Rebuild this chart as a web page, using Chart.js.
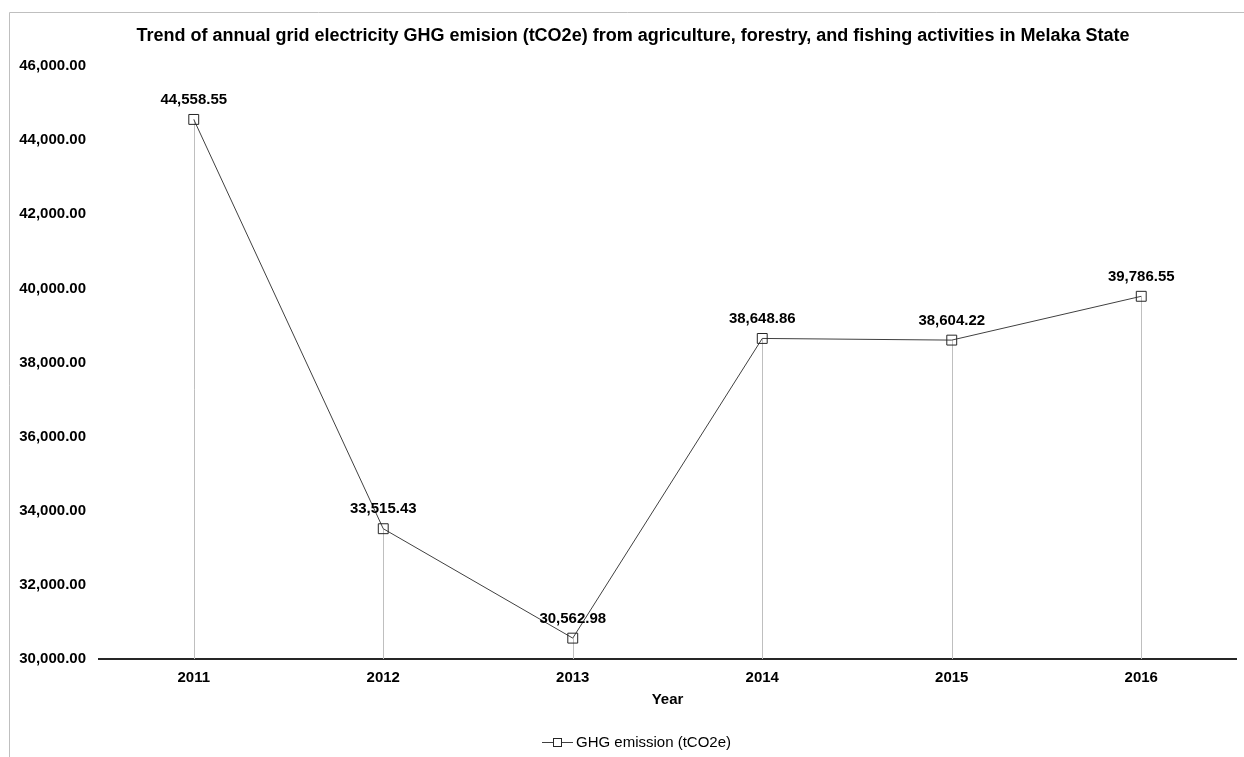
<!DOCTYPE html>
<html>
<head>
<meta charset="utf-8">
<script src="https://cdn.jsdelivr.net/npm/chart.js@4.4.1/dist/chart.umd.min.js"></script>
<style>
  html, body { margin: 0; padding: 0; background: #ffffff; }
  #wrap { position: relative; width: 1244px; height: 757px; }
</style>
</head>
<body>
<div id="wrap"><canvas id="chart" width="1244" height="757"></canvas></div>
<script>
// Annual grid electricity GHG emission, agriculture/forestry/fishing, Melaka
const years = ['2011', '2012', '2013', '2014', '2015', '2016'];
const emissions = [44558.55, 33515.43, 30562.98, 38648.86, 38604.22, 39786.55];
const yRange = { min: 30000, max: 46000, step: 2000 };
const seriesName = 'GHG emission (tCO2e)';
const chartTitle = 'Trend of annual grid electricity GHG emision (tCO2e) from agriculture, forestry, and fishing activities in Melaka State';
const axisTitleX = 'Year';

const FONT = '"Liberation Sans", Arial, sans-serif';
const fmt = v => v.toLocaleString('en-US', { minimumFractionDigits: 2, maximumFractionDigits: 2 });

// Frame, heading, drop lines, value labels, axis title and legend
const decor = {
  id: 'decor',
  beforeDraw(chart) {
    const ctx = chart.ctx;
    ctx.save();
    // outer frame (top and left edges)
    ctx.strokeStyle = '#bfbfbf';
    ctx.lineWidth = 1;
    ctx.beginPath();
    ctx.moveTo(9.5, chart.height + 2);
    ctx.lineTo(9.5, 12.5);
    ctx.lineTo(chart.width + 2, 12.5);
    ctx.stroke();
    // heading, centred on the frame
    ctx.font = 'bold 18px ' + FONT;
    ctx.fillStyle = '#000000';
    ctx.textAlign = 'center';
    ctx.textBaseline = 'middle';
    ctx.fillText(chartTitle, 633, 36.5);
    ctx.restore();
  },
  beforeDatasetsDraw(chart) {
    const ctx = chart.ctx;
    const meta = chart.getDatasetMeta(0);
    const bottom = chart.chartArea.bottom;
    ctx.save();
    ctx.strokeStyle = '#bfbfbf';
    ctx.lineWidth = 1;
    meta.data.forEach(pt => {
      const x = Math.round(pt.x) + 0.5;
      ctx.beginPath();
      ctx.moveTo(x, pt.y);
      ctx.lineTo(x, bottom);
      ctx.stroke();
    });
    ctx.restore();
  },
  afterDatasetsDraw(chart) {
    const ctx = chart.ctx;
    const meta = chart.getDatasetMeta(0);
    const ds = chart.data.datasets[0];
    const area = chart.chartArea;
    ctx.save();
    ctx.font = 'bold 15px ' + FONT;
    ctx.fillStyle = '#000000';
    ctx.textAlign = 'center';
    ctx.textBaseline = 'middle';
    meta.data.forEach((pt, i) => {
      ctx.fillText(fmt(ds.data[i]), pt.x, pt.y - 19.5);
    });
    ctx.fillText(axisTitleX, (area.left + area.right) / 2, area.bottom + 41);

    // legend entry: line with an open square, then the series name
    const ly = 742.5, lx = 542;
    ctx.strokeStyle = ds.borderColor;
    ctx.lineWidth = 1;
    ctx.beginPath();
    ctx.moveTo(lx, ly);
    ctx.lineTo(lx + 31, ly);
    ctx.stroke();
    ctx.fillStyle = '#ffffff';
    ctx.fillRect(lx + 11.5, ly - 4, 8, 8);
    ctx.strokeStyle = ds.pointBorderColor;
    ctx.strokeRect(lx + 11.5, ly - 4, 8, 8);
    ctx.font = '15px ' + FONT;
    ctx.fillStyle = '#000000';
    ctx.textAlign = 'left';
    ctx.fillText(ds.label, lx + 34, ly);
    ctx.restore();
  }
};

new Chart(document.getElementById('chart'), {
  type: 'line',
  data: {
    labels: years,
    datasets: [{
      label: seriesName,
      data: emissions,
      borderColor: '#404040',
      borderWidth: 1,
      tension: 0,
      pointStyle: 'rect',
      pointRadius: 7,
      pointBorderWidth: 1,
      pointBorderColor: '#262626',
      pointBackgroundColor: 'rgba(255,255,255,0)',
      fill: false
    }]
  },
  options: {
    responsive: false,
    animation: false,
    devicePixelRatio: 1,
    layout: { padding: { left: 0, right: 5, top: 66, bottom: 0 } },
    plugins: {
      title: { display: false },
      legend: { display: false },
      tooltip: { enabled: false }
    },
    scales: {
      x: {
        offset: true,
        grid: { display: false, drawTicks: false },
        border: { display: true, color: '#262626', width: 2 },
        ticks: { color: '#000000', font: { family: FONT, size: 15, weight: 'bold' }, padding: 10 },
        afterFit(scale) { scale.height = 98; }
      },
      y: {
        min: yRange.min,
        max: yRange.max,
        grid: { display: false, drawTicks: false },
        border: { display: false },
        ticks: {
          stepSize: yRange.step,
          color: '#000000',
          font: { family: FONT, size: 15, weight: 'bold' },
          padding: 13,
          callback: v => fmt(v)
        },
        afterFit(scale) { scale.width = 99; }
      }
    }
  },
  plugins: [decor]
});
</script>
</body>
</html>
